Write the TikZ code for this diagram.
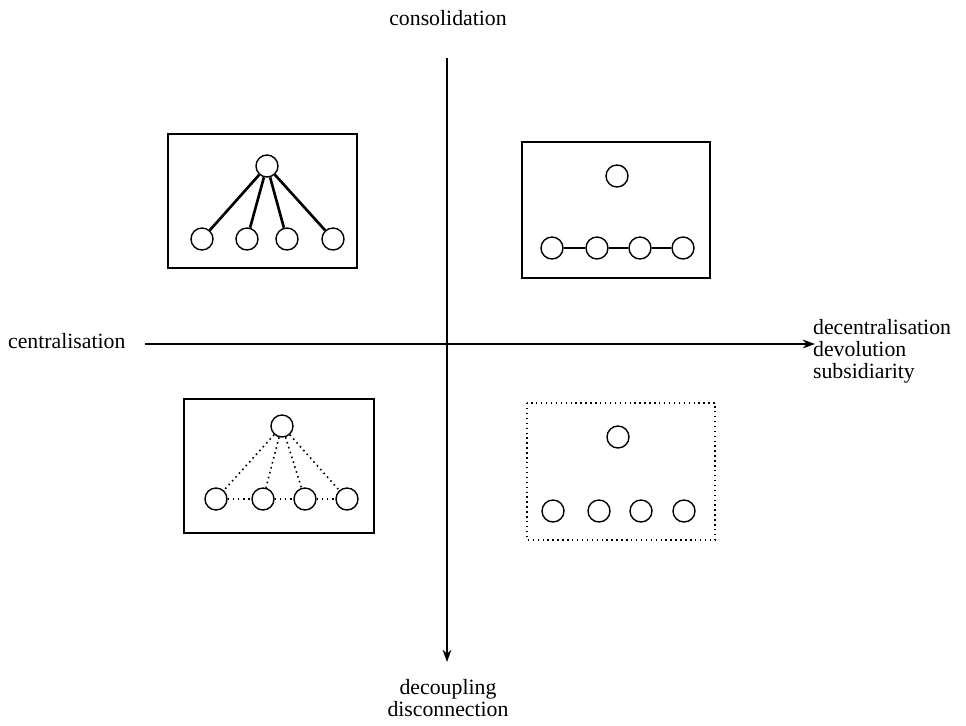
\documentclass[tikz,border=0pt]{standalone}
\usepackage{fontspec}
\setmainfont{Liberation Serif}
\usetikzlibrary{positioning}
\usetikzlibrary{arrows.meta,shapes}

\tikzset{
  unit/.style={circle,draw,line width=0.8pt,minimum size=0.44cm,inner sep=0pt},
  frame/.style={draw,line width=0.8pt},
  lbl/.style={font=\fontsize{12.4}{12.6}\selectfont,align=left,inner sep=1pt}
}

\begin{document}
\begin{tikzpicture}[x=0.02cm,y=-0.02cm]
\useasboundingbox (0,0) rectangle (966,725);

% axes
\node[lbl] (cons) at (448,18) {consolidation};
\node[lbl,anchor=west] (cent) at (6,341) {centralisation};
\node[lbl,anchor=north west] (dec) at (811,317) {decentralisation\\devolution\\subsidiarity};
\node[lbl,align=center,anchor=north] (deco) at (448,677) {decoupling\\disconnection};
\coordinate (top) at (447,58);
\coordinate (bot) at (447,662);
\coordinate (lft) at (145,344);
\coordinate (rgt) at (815,344);
\draw[line width=0.8pt,-{Stealth[length=7pt,width=5pt]}] (top) -- (bot);
\draw[line width=0.8pt,-{Stealth[length=7pt,width=5pt]}] (lft) -- (rgt);

% top left
\draw[frame] (168,134) rectangle (357,268);
\node[unit] (a0) at (267,166) {};
\node[unit] (a1) at (202,239) {};
\node[unit] (a2) at (247,239) {};
\node[unit] (a3) at (287,239) {};
\node[unit] (a4) at (333,239) {};
\foreach \i in {1,...,4}
  \draw[line width=1.5pt] (a0) -- (a\i);

% top right
\draw[frame] (522,142) rectangle (710,278);
\node[unit] (b0) at (617,176) {};
\node[unit] (b1) at (552,248) {};
\node[unit] (b2) at (597,248) {};
\node[unit] (b3) at (640,248) {};
\node[unit] (b4) at (683,248) {};
\draw[line width=1.3pt] (b1) -- (b2) -- (b3) -- (b4);

% bottom left
\draw[frame] (184,399) rectangle (374,533);
\node[unit] (c0) at (282,426) {};
\node[unit] (c1) at (216,499) {};
\node[unit] (c2) at (263,499) {};
\node[unit] (c3) at (305,499) {};
\node[unit] (c4) at (347,499) {};
\foreach \i in {1,...,4}
  \draw[line width=0.9pt,dotted] (c0) -- (c\i);
\draw[line width=0.9pt,dotted] (c1) -- (c2) -- (c3) -- (c4);

% bottom right
\draw[frame,dotted] (527,403) rectangle (715,540);
\node[unit] (d0) at (618,437) {};
\node[unit] (d1) at (553,511) {};
\node[unit] (d2) at (599,511) {};
\node[unit] (d3) at (641,511) {};
\node[unit] (d4) at (684,511) {};

\end{tikzpicture}
\end{document}
